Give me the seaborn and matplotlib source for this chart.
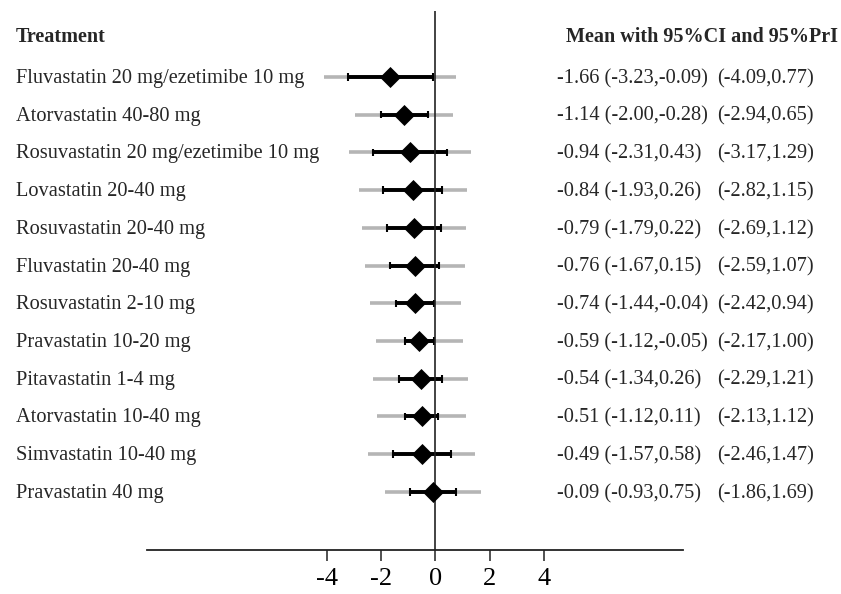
import matplotlib
matplotlib.use("Agg")
import matplotlib.pyplot as plt
import matplotlib.transforms as mtransforms
import seaborn as sns
import pandas as pd

treatments = [
    "Fluvastatin 20 mg/ezetimibe 10 mg",
    "Atorvastatin 40-80 mg",
    "Rosuvastatin 20 mg/ezetimibe 10 mg",
    "Lovastatin 20-40 mg",
    "Rosuvastatin 20-40 mg",
    "Fluvastatin 20-40 mg",
    "Rosuvastatin 2-10 mg",
    "Pravastatin 10-20 mg",
    "Pitavastatin 1-4 mg",
    "Atorvastatin 10-40 mg",
    "Simvastatin 10-40 mg",
    "Pravastatin 40 mg",
]
mean = [-1.66, -1.14, -0.94, -0.84, -0.79, -0.76, -0.74, -0.59, -0.54, -0.51, -0.49, -0.09]
ci_low = [-3.23, -2.00, -2.31, -1.93, -1.79, -1.67, -1.44, -1.12, -1.34, -1.12, -1.57, -0.93]
ci_high = [-0.09, -0.28, 0.43, 0.26, 0.22, 0.15, -0.04, -0.05, 0.26, 0.11, 0.58, 0.75]
pri_low = [-4.09, -2.94, -3.17, -2.82, -2.69, -2.59, -2.42, -2.17, -2.29, -2.13, -2.46, -1.86]
pri_high = [0.77, 0.65, 1.29, 1.15, 1.12, 1.07, 0.94, 1.00, 1.21, 1.12, 1.47, 1.69]
xticks = [-4, -2, 0, 2, 4]

df = pd.DataFrame({"treatment": treatments, "mean": mean, "ci_low": ci_low,
                   "ci_high": ci_high, "pri_low": pri_low, "pri_high": pri_high})
df["row"] = range(len(df))

sns.set_theme(style="white")
plt.rcParams["font.family"] = ["Liberation Serif", "DejaVu Serif"]

fig = plt.figure(figsize=(8.41, 5.94), dpi=100)
ax = fig.add_axes([147 / 841, 1 - 550 / 594, (683 - 147) / 841, (550 - 11) / 594])

gray = "#b5b5b5"
ax.hlines(df["row"], df["pri_low"], df["pri_high"], color=gray, lw=2.6, zorder=1)
ax.hlines(df["row"], df["ci_low"], df["ci_high"], color="black", lw=2.8, zorder=2)
ax.vlines(list(df["ci_low"]) + list(df["ci_high"]),
          list(df["row"] - 0.1) * 2, list(df["row"] + 0.1) * 2,
          color="black", lw=1.5, zorder=2)
sns.scatterplot(data=df, x="mean", y="row", marker="D", s=115, color="black",
                edgecolor="black", linewidth=0, zorder=4, ax=ax, legend=False)

ax.axvline(0, color="#222222", lw=1.2, zorder=3)

ax.set_xlim(-10.6, 9.1)
ax.set_ylim(12.54, -1.75)
ax.set_xticks(xticks)
ax.set_xticklabels([str(t) for t in xticks], fontsize=19)
ax.set_yticks([])
ax.set_xlabel("")
ax.set_ylabel("")
for s in ["top", "right", "left"]:
    ax.spines[s].set_visible(False)
ax.spines["bottom"].set_color("#222222")
ax.spines["bottom"].set_linewidth(1.3)
ax.tick_params(axis="x", direction="out", length=8, width=1.1, color="#222222",
               bottom=True, pad=5, labelcolor="black")

trans = mtransforms.blended_transform_factory(fig.transFigure, ax.transData)
head_y = -1.06
fs = 14.7
fig_x = lambda px: px / 841
ax.text(fig_x(16), head_y, "Treatment", transform=trans, fontsize=14.5,
        fontweight="bold", va="center", ha="left", clip_on=False)
ax.text(fig_x(566), head_y, "Mean with 95%CI and 95%PrI", transform=trans,
        fontsize=14.5, fontweight="bold", va="center", ha="left", clip_on=False)

for i, r in df.iterrows():
    y = r["row"] + 0.04
    ax.text(fig_x(16), y, r["treatment"], transform=trans, fontsize=fs,
            va="center", ha="left", clip_on=False)
    ax.text(fig_x(557), y, f"{r['mean']:.2f} ({r['ci_low']:.2f},{r['ci_high']:.2f})",
            transform=trans, fontsize=fs, va="center", ha="left", clip_on=False)
    ax.text(fig_x(717), y, f"({r['pri_low']:.2f},{r['pri_high']:.2f})",
            transform=trans, fontsize=fs, va="center", ha="left", clip_on=False)

fig.savefig("out.png", dpi=100, facecolor="white")
